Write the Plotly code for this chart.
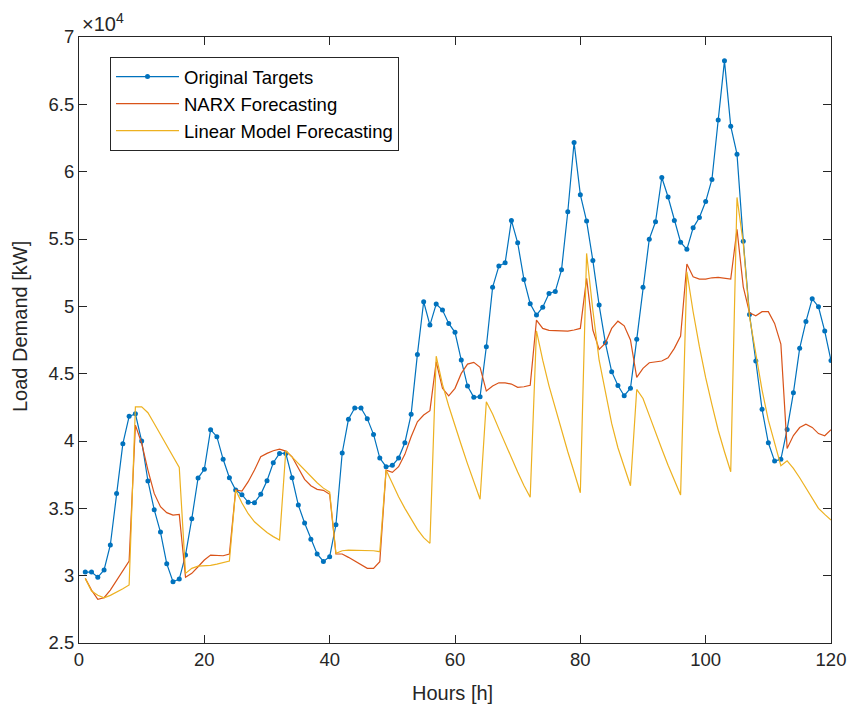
import plotly.graph_objects as go

hours = list(range(1, 121))

original_targets = [
    30270, 30270, 29880, 30420, 32280, 36110, 39800, 41830, 42020, 40000,
    37030, 34900, 33240, 30890, 29550, 29750, 31530, 34230, 37250, 37900,
    40840, 40320, 38640, 37270, 36360, 36010, 35450, 35420, 36040, 37050,
    38390, 39080, 39080, 37270, 35240, 33910, 32700, 31610, 31060, 31410,
    33780, 39110, 41610, 42450, 42450, 41660, 40490, 38730, 38090, 38190,
    38730, 39870, 41980, 46430, 50340, 48610, 50170, 49720, 48730, 48070,
    46010, 44080, 43240, 43290, 47000, 51410, 52990, 53230, 56380, 54720,
    52000, 50190, 49350, 49940, 50960, 51110, 52710, 57020, 62170, 58290,
    56330, 53400, 50090, 47290, 45150, 44120, 43360, 43920, 47550, 51410,
    54990, 56280, 59570, 58120, 56370, 54760, 54230, 55830, 56600, 57780,
    59420, 63830, 68230, 63380, 61300, 54840, 49400, 45940, 42350, 39870,
    38510, 38640, 40860, 43580, 46880, 48870, 50560, 49970, 48160, 45970,
]

narx_forecast = [
    29800, 28930, 28240, 28360, 28930, 29680, 30370, 31090, 41180, 39830,
    37840, 36110, 35120, 34680, 34500, 34550, 29880, 30170, 30660, 31160,
    31530, 31530, 31480, 31610, 36360, 36280, 36980, 37840, 38830, 39080,
    39280, 39400, 39250, 38830, 38040, 37150, 36680, 36410, 36340, 36040,
    31610, 31610, 31360, 31090, 30810, 30540, 30540, 31040, 37840, 37670,
    38090, 39010, 40320, 41430, 41930, 42250, 45880, 43910, 43350, 43910,
    45020, 45710, 45840, 45470, 43710, 44080, 44320, 44320, 44230, 43980,
    44030, 44130, 48980, 48360, 48210, 48210, 48210, 48160, 48240, 48360,
    52080, 48240, 46800, 47270, 48360, 48900, 48550, 47500, 44720, 45390,
    45810, 45880, 45940, 46180, 46880, 47790, 53140, 52200, 52020, 52020,
    52120, 52150, 52100, 52020, 55710, 51450, 49520, 49300, 49600, 49600,
    48730, 47200, 39450, 40400, 41000, 41250, 41010, 40550, 40390, 40840,
]

linear_forecast = [
    29800, 28860, 28540, 28360, 28540, 28760, 29030, 29310, 42540, 42540,
    42100, 41300, 40500, 39700, 38900, 38040, 30170, 30540, 30710, 30740,
    30760, 30860, 30960, 31090, 36360, 35400, 34600, 34000, 33600, 33200,
    32900, 32650, 39280, 38800, 38300, 37800, 37300, 36900, 36500, 36200,
    31660, 31850, 31900, 31900, 31900, 31870, 31850, 31780, 37840, 36860,
    35860, 35000, 34180, 33440, 32820, 32400, 46300, 44200, 42600, 41100,
    39700, 38300, 37000, 35670, 42910, 42000, 40900, 39800, 38700, 37700,
    36700, 35820, 48180, 46000, 44100, 42400, 40800, 39200, 37700, 36160,
    53930, 49700, 46000, 43500, 41300, 39500, 38000, 36680, 43830, 43160,
    41900, 40600, 39400, 38200, 37100, 35990, 52570, 49600, 47000, 44700,
    42700, 40800, 39200, 37720, 58090, 54670, 49220, 46500, 43780, 41550,
    39820, 38160, 38530, 37970, 37270, 36480, 35740, 35000, 34550, 34130,
]

y_tickvals = [25000, 30000, 35000, 40000, 45000, 50000, 55000, 60000, 65000, 70000]
y_ticktext = ["2.5", "3", "3.5", "4", "4.5", "5", "5.5", "6", "6.5", "7"]
x_tickvals = [0, 20, 40, 60, 80, 100, 120]

BLUE = "#0072BD"
RED = "#D95319"
YELLOW = "#EDB120"
AX = "#262626"
FONT = "Liberation Sans, Arial, sans-serif"

fig = go.Figure()
fig.add_trace(go.Scatter(
    x=hours, y=original_targets, name="Original Targets",
    mode="lines+markers", line=dict(color=BLUE, width=1.2),
    marker=dict(color=BLUE, size=5),
))
fig.add_trace(go.Scatter(
    x=hours, y=narx_forecast, name="NARX Forecasting",
    mode="lines", line=dict(color=RED, width=1.2),
))
fig.add_trace(go.Scatter(
    x=hours, y=linear_forecast, name="Linear Model Forecasting",
    mode="lines", line=dict(color=YELLOW, width=1.2),
))

W, H = 848, 709
# plot area in page pixels
PL, PR, PT, PB = 79, 831, 37, 643
L, R, T, B = PL, W - PR, PT, H - PB
PW, PH = PR - PL, PB - PT

def px_x(p):
    return (p - PL) / PW

def px_y(p):
    return (PB - p) / PH

fig.update_layout(
    width=W, height=H,
    margin=dict(l=L, r=R, t=T, b=B, autoexpand=False),
    paper_bgcolor="white", plot_bgcolor="white",
    font=dict(family=FONT, color=AX, size=18.5),
    showlegend=True,
    legend=dict(
        x=px_x(110), y=px_y(57), xanchor="left", yanchor="top",
        bgcolor="white", bordercolor=AX, borderwidth=1,
        font=dict(family=FONT, size=18.5, color="black"),
        itemwidth=63,
    ),
    xaxis=dict(
        range=[0, 120], tickvals=x_tickvals, ticks="inside", ticklen=8,
        tickcolor=AX, showline=True, linecolor=AX, linewidth=1, mirror="allticks",
        showgrid=False, zeroline=False, automargin=False,
        tickfont=dict(family=FONT, size=18.5, color=AX),
    ),
    yaxis=dict(
        range=[25000, 70000], tickvals=y_tickvals, ticktext=y_ticktext,
        ticks="inside", ticklen=8, tickcolor=AX, showline=True, linecolor=AX,
        linewidth=1, mirror="allticks", showgrid=False, zeroline=False,
        automargin=False,
        tickfont=dict(family=FONT, size=18.5, color=AX),
    ),
    annotations=[
        dict(
            xref="paper", yref="paper", x=px_x(80), y=px_y(37), xanchor="left",
            yanchor="bottom", text="×10<sup>4</sup>", showarrow=False,
            font=dict(family=FONT, size=20, color=AX),
        ),
        dict(
            xref="paper", yref="paper", x=px_x(452), y=px_y(693), xanchor="center",
            yanchor="middle", text="Hours [h]", showarrow=False,
            font=dict(family=FONT, size=20, color=AX),
        ),
        dict(
            xref="paper", yref="paper", x=px_x(20), y=px_y(327), xanchor="center",
            yanchor="middle", text="Load Demand [kW]", showarrow=False, textangle=-90,
            font=dict(family=FONT, size=20, color=AX),
        ),
    ],
)

fig.write_html(
    "out.html",
    config={"displayModeBar": False},
    post_script="document.body.style.margin='0';document.body.style.overflow='hidden';",
)
